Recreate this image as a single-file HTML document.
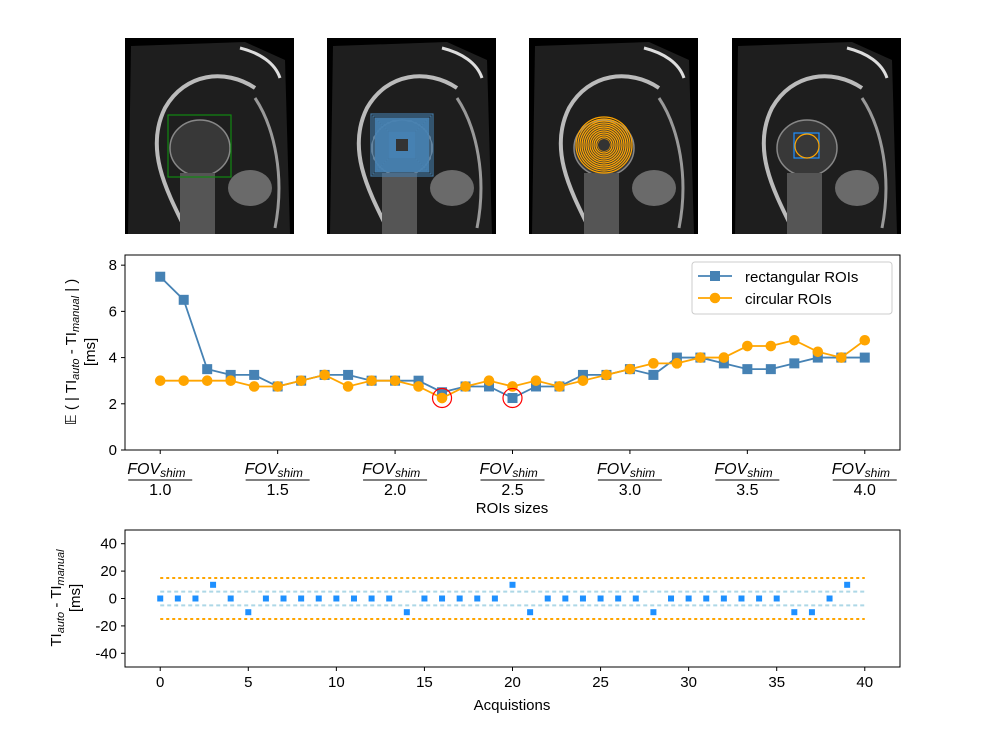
<!DOCTYPE html>
<html><head><meta charset="utf-8"><style>
body{margin:0;background:#fff}
svg{display:block;font-family:"Liberation Sans","DejaVu Sans",sans-serif}
</style></head><body>
<svg id="fig" width="1000" height="750" viewBox="0 0 1000 750">
<g id="imgs"></g>
<g id="mid"></g>
<g id="bot"></g>
</svg>
<script>
// middle chart data
const roiSizes=[1.0,1.1,1.2,1.3,1.4,1.5,1.6,1.7,1.8,1.9,2.0,2.1,2.2,2.3,2.4,2.5,2.6,2.7,2.8,2.9,3.0,3.1,3.2,3.3,3.4,3.5,3.6,3.7,3.8,3.9,4.0];
const rectValues=[7.5,6.5,3.5,3.25,3.25,2.75,3.0,3.25,3.25,3.0,3.0,3.0,2.5,2.75,2.75,2.25,2.75,2.75,3.25,3.25,3.5,3.25,4.0,4.0,3.75,3.5,3.5,3.75,4.0,4.0,4.0];
const circValues=[3,3,3,3,2.75,2.75,3,3.25,2.75,3,3,2.75,2.25,2.75,3,2.75,3,2.75,3,3.25,3.5,3.75,3.75,4,4,4.5,4.5,4.75,4.25,4,4.75];
const midXTicks=[1.0,1.5,2.0,2.5,3.0,3.5,4.0];
const midXTickLabels=["1.0","1.5","2.0","2.5","3.0","3.5","4.0"];
const midYTicks=[0,2,4,6,8];
const highlightX=[2.2,2.5];
const highlightY=[2.25,2.25];
// bottom chart data
const acqIndex=[...Array(40).keys()];
const acqDiff=[0,0,0,10,0,-10,0,0,0,0,0,0,0,0,-10,0,0,0,0,0,10,-10,0,0,0,0,0,0,-10,0,0,0,0,0,0,0,-10,-10,0,10];
const botXTicks=[0,5,10,15,20,25,30,35,40];
const botYTicks=[-40,-20,0,20,40];
const innerBand=[-5,5];
const outerBand=[-15,15];

const NS="http://www.w3.org/2000/svg";
function mk(parent,tag,attrs,text){const e=document.createElementNS(NS,tag);for(const k in attrs)e.setAttribute(k,attrs[k]);if(text!==undefined)e.textContent=text;parent.appendChild(e);return e;}

// ---- MRI panels ----
const imgs=document.getElementById('imgs');
const panelX=[125,327,529,732];
panelX.forEach((px,i)=>{
  const g=mk(imgs,'g',{transform:`translate(${px},38)`});
  
  
  mk(g,'rect',{x:0,y:0,width:169,height:196,fill:'#000'});
  mk(g,'path',{d:'M6,8 L120,4 L160,22 L165,196 L3,196 Z',fill:'#1e1e1e'});
  mk(g,'path',{d:'M60,190 C40,150 20,110 40,70 C60,35 100,30 130,50',fill:'none',stroke:'#bbb','stroke-width':4});
  mk(g,'path',{d:'M150,190 C160,140 150,90 130,60',fill:'none',stroke:'#999','stroke-width':3});
  mk(g,'ellipse',{cx:75,cy:110,rx:30,ry:28,fill:'#383838',stroke:'#888','stroke-width':1.5});
  mk(g,'ellipse',{cx:125,cy:150,rx:22,ry:18,fill:'#6a6a6a'});
  mk(g,'rect',{x:55,y:135,width:35,height:61,fill:'#555'});
  mk(g,'path',{d:'M115,10 C135,15 150,25 155,40',fill:'none',stroke:'#ddd','stroke-width':3});
});
{
  const g=imgs;
  let e=mk(g,'rect',{x:168,y:115,width:63,height:62,fill:'none',stroke:'#118811','stroke-width':1.2});
  
  for(let k=0;k<10;k++){const s=62-k*4;mk(g,'rect',{x:402-s/2,y:145-s/2,width:s,height:s,fill:k>8?'#4682b4':'none',stroke:'#4682b4','stroke-width':1.2,opacity:0.9});}
  mk(g,'rect',{x:375,y:118,width:54,height:54,fill:'#4682b4',opacity:0.85});
  mk(g,'rect',{x:396,y:139,width:12,height:12,fill:'#333'});
  for(let k=0;k<14;k++){mk(g,'circle',{cx:604,cy:145,r:28-k*2,fill:'none',stroke:'#ffa500','stroke-width':1.2});}
  mk(g,'circle',{cx:604,cy:145,r:6,fill:'#333'});
  mk(g,'rect',{x:794,y:133,width:25,height:25,fill:'none',stroke:'#1e90ff','stroke-width':1.2});
  mk(g,'circle',{cx:807,cy:146,r:12,fill:'none',stroke:'#ffa500','stroke-width':1.2});
}

// ---- middle chart ----
const mid=document.getElementById('mid');
const mL=125,mR=900,mT=255,mB=450,mx0=0.85,mx1=4.15,my0=0,my1=8.44;
const mX=v=>mL+(v-mx0)/(mx1-mx0)*(mR-mL);
const mY=v=>mB-(v-my0)/(my1-my0)*(mB-mT);
mk(mid,'rect',{x:mL,y:mT,width:mR-mL,height:mB-mT,fill:'#fff'});
midYTicks.forEach(t=>{const y=mY(t);mk(mid,'line',{x1:mL-4,x2:mL,y1:y,y2:y,stroke:'#000'});
  const tx=mk(mid,'text',{x:mL-8,y:y+5,'text-anchor':'end','font-size':15},String(t));
  });
midXTicks.forEach((t,i)=>{const x=mX(t);mk(mid,'line',{x1:x,x2:x,y1:mB,y2:mB+4,stroke:'#000'});
  const g=mk(mid,'g',{});
  const a=mk(g,'text',{x:x-33,y:474,'font-size':16,'font-style':'italic'},'FOV');
  mk(a,'tspan',{'font-size':12,dy:3},'shim');
  mk(g,'line',{x1:x-32,x2:x+32,y1:480,y2:480,stroke:'#000','stroke-width':1});
  mk(g,'text',{x:x,y:495,'text-anchor':'middle','font-size':16},midXTickLabels[i]);});
function series(g,xs,ys,color,name,marker){
  const sg=mk(g,'g',{});
  mk(sg,'polyline',{points:xs.map((x,i)=>mX(x)+','+mY(ys[i])).join(' '),fill:'none',stroke:color,'stroke-width':1.8});
  xs.forEach((x,i)=>{const cx=mX(x),cy=mY(ys[i]);
    const m=marker==='s'?mk(sg,'rect',{x:cx-5,y:cy-5,width:10,height:10,fill:color}):mk(sg,'circle',{cx,cy,r:5.3,fill:color});
    });
}
series(mid,roiSizes,rectValues,'#4682b4','rectangular-series','s');
series(mid,roiSizes,circValues,'#ffa500','circular-series','o');
highlightX.forEach((x,i)=>{const c=mk(mid,'circle',{cx:mX(x),cy:mY(highlightY[i]),r:9.5,fill:'none',stroke:'#f00','stroke-width':1.2});
  });
mk(mid,'rect',{x:mL,y:mT,width:mR-mL,height:mB-mT,fill:'none',stroke:'#000','stroke-width':1});
{
  const lg=mk(mid,'g',{});
  mk(lg,'rect',{x:692,y:262,width:200,height:52,rx:3,fill:'#fff',stroke:'#ccc'});
  const e1=mk(lg,'g',{});
  mk(e1,'line',{x1:698,x2:732,y1:276,y2:276,stroke:'#4682b4','stroke-width':1.8});
  mk(e1,'rect',{x:710,y:271,width:10,height:10,fill:'#4682b4'});
  mk(e1,'text',{x:745,y:282,'font-size':15},'rectangular ROIs');
  const e2=mk(lg,'g',{});
  mk(e2,'line',{x1:698,x2:732,y1:298,y2:298,stroke:'#ffa500','stroke-width':1.8});
  mk(e2,'circle',{cx:715,cy:298,r:5.3,fill:'#ffa500'});
  mk(e2,'text',{x:745,y:304,'font-size':15},'circular ROIs');
}
{
  const t=mk(mid,'text',{x:512,y:513,'text-anchor':'middle','font-size':15},'ROIs sizes');
  
  const yt=mk(mid,'g',{transform:'translate(76,352) rotate(-90)'});
  
  const a=mk(yt,'text',{x:0,y:0,'text-anchor':'middle','font-size':15});
  a.appendChild(document.createTextNode('𝔼 ( | TI'));
  mk(a,'tspan',{'font-size':11,dy:3,'font-style':'italic'},'auto');
  mk(a,'tspan',{dy:-3},' - TI');
  mk(a,'tspan',{'font-size':11,dy:3,'font-style':'italic'},'manual');
  mk(a,'tspan',{dy:-3},' | )');
  mk(yt,'text',{x:0,y:19,'text-anchor':'middle','font-size':15},'[ms]');
}

// ---- bottom chart ----
const bot=document.getElementById('bot');
const bL=125,bR=900,bT=530,bB=667,bx0=-2,bx1=42,by0=-50,by1=50;
const bX=v=>bL+(v-bx0)/(bx1-bx0)*(bR-bL);
const bY=v=>bB-(v-by0)/(by1-by0)*(bB-bT);
botYTicks.forEach(t=>{const y=bY(t);mk(bot,'line',{x1:bL-4,x2:bL,y1:y,y2:y,stroke:'#000'});
  const tx=mk(bot,'text',{x:bL-8,y:y+5,'text-anchor':'end','font-size':15},String(t));
  });
botXTicks.forEach(t=>{const x=bX(t);mk(bot,'line',{x1:x,x2:x,y1:bB,y2:bB+4,stroke:'#000'});
  const tx=mk(bot,'text',{x:x,y:bB+20,'text-anchor':'middle','font-size':15},String(t));
  });
outerBand.forEach(v=>{const l=mk(bot,'line',{x1:bX(0),x2:bX(40),y1:bY(v),y2:bY(v),stroke:'#ffa500','stroke-width':2,'stroke-dasharray':'3,3'});
  });
innerBand.forEach(v=>{const l=mk(bot,'line',{x1:bX(0),x2:bX(40),y1:bY(v),y2:bY(v),stroke:'#add8e6','stroke-width':2,'stroke-dasharray':'4,3'});
  });
acqIndex.forEach((x,i)=>{const m=mk(bot,'rect',{x:bX(x)-3,y:bY(acqDiff[i])-3,width:6,height:6,fill:'#1e90ff'});
  });
mk(bot,'rect',{x:bL,y:bT,width:bR-bL,height:bB-bT,fill:'none',stroke:'#000','stroke-width':1});
{
  const t=mk(bot,'text',{x:512,y:710,'text-anchor':'middle','font-size':15},'Acquistions');
  
  const yt=mk(bot,'g',{transform:'translate(61,598) rotate(-90)'});
  
  const a=mk(yt,'text',{x:0,y:0,'text-anchor':'middle','font-size':15});
  a.appendChild(document.createTextNode('TI'));
  mk(a,'tspan',{'font-size':11,dy:3,'font-style':'italic'},'auto');
  mk(a,'tspan',{dy:-3},' - TI');
  mk(a,'tspan',{'font-size':11,dy:3,'font-style':'italic'},'manual');
  mk(yt,'text',{x:0,y:19,'text-anchor':'middle','font-size':15},'[ms]');
}
</script>
</body></html>
